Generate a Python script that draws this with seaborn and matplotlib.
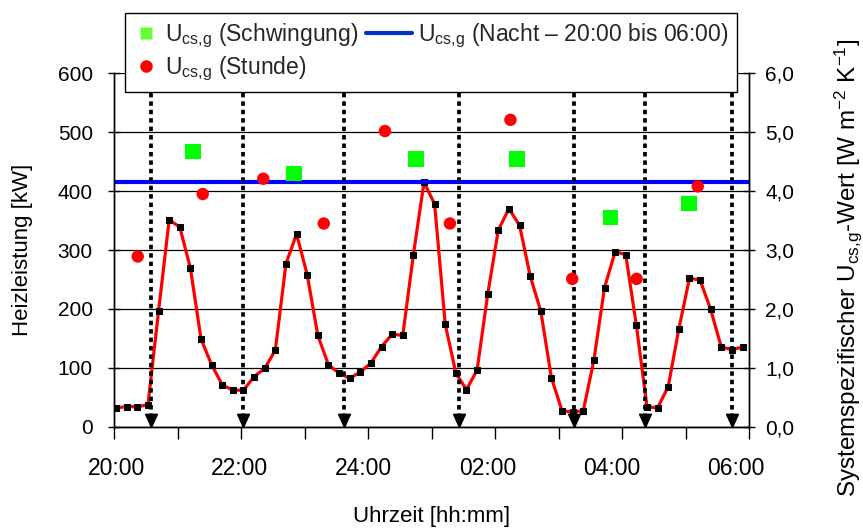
import numpy as np
import pandas as pd
import matplotlib
matplotlib.use("Agg")
import matplotlib.pyplot as plt
from matplotlib.lines import Line2D
from matplotlib.legend_handler import HandlerLine2D
import seaborn as sns

# ---------------- data ----------------
# heating power, 10-minute values from 20:00
zeit_min = np.arange(0, 600, 10)
heizleistung_kw = [32, 34, 34, 37, 196, 351, 339, 269, 149, 105,
                   71, 62, 62, 85, 99, 130, 277, 327, 258, 155,
                   105, 91, 82, 93, 108, 136, 157, 155, 292, 415,
                   378, 174, 91, 63, 96, 225, 334, 370, 342, 256,
                   196, 83, 27, 25, 27, 113, 236, 297, 292, 172,
                   34, 32, 68, 166, 252, 249, 199, 135, 131, 135]

# hourly U values (right axis)
stunde_h = [0.34, 1.36, 2.31, 3.26, 4.22, 5.24, 6.19, 7.16, 8.17, 9.13]
stunde_u = [2.89, 3.95, 4.21, 3.45, 5.02, 3.45, 5.21, 2.51, 2.51, 4.08]

# oscillation-based U values (right axis)
schwingung_h = [1.21, 2.79, 4.71, 6.29, 7.76, 8.99]
schwingung_u = [4.67, 4.30, 4.55, 4.55, 3.55, 3.79]

# night mean value
nacht_u = 4.16

# oscillation boundaries (hours after 20:00)
grenzen_h = [0.545, 2.00, 3.58, 5.38, 7.18, 8.31, 9.66]

x_ticklabels = ["20:00", "22:00", "24:00", "02:00", "04:00", "06:00"]
y_left_ticks = [0, 100, 200, 300, 400, 500, 600]
y_right_ticks = [0, 1, 2, 3, 4, 5, 6]
y_right_labels = ["0,0", "1,0", "2,0", "3,0", "4,0", "5,0", "6,0"]

lbl_schw = r"U$_{\mathrm{cs{,}g}}$ (Schwingung)"
lbl_stunde = r"U$_{\mathrm{cs{,}g}}$ (Stunde)"
lbl_nacht = r"U$_{\mathrm{cs{,}g}}$ (Nacht – 20:00 bis 06:00)"

# ---------------- style ----------------
sns.set_theme(style="white")
plt.rcParams["font.family"] = ["Liberation Sans", "DejaVu Sans"]
plt.rcParams["mathtext.fontset"] = "custom"
plt.rcParams["mathtext.rm"] = "Liberation Sans"
plt.rcParams["mathtext.it"] = "Liberation Sans:italic"
plt.rcParams["mathtext.bf"] = "Liberation Sans:bold"
plt.rcParams["axes.unicode_minus"] = False

fig = plt.figure(figsize=(8.63, 5.30), dpi=100)
ax = fig.add_axes([0.1325, 0.1949, 0.7358, 0.6668])
ax2 = ax.twinx()

df = pd.DataFrame({"h": zeit_min / 60.0, "kw": heizleistung_kw})

# red line with black square markers
sns.lineplot(data=df, x="h", y="kw", ax=ax, color="#ff0000", lw=2.3,
             marker="s", markersize=4.6, markerfacecolor="black",
             markeredgecolor="black", sort=False, estimator=None, zorder=3)

xlim = (-0.027, 9.94)
ax.set_xlim(*xlim)
ax.set_ylim(0, 600)
ax2.set_ylim(0, 6)

# grid
ax.set_yticks(y_left_ticks)
ax.yaxis.grid(True, color="black", lw=0.9)
ax.xaxis.grid(False)
ax.set_axisbelow(True)

# x tick marks every hour; time labels placed as texts below them
ax.set_xticks(np.linspace(xlim[0], xlim[1], 11))
ax.tick_params(axis="x", which="major", direction="out", length=8.5,
               width=1, color="black", bottom=True, labelbottom=False)
ax2.tick_params(axis="x", which="both", labelbottom=False, bottom=False)
xlab_pos = np.linspace(0, 9.72, len(x_ticklabels))
for xp, txt in zip(xlab_pos, x_ticklabels):
    ax.text(xp, -0.117, txt, transform=ax.get_xaxis_transform(), ha="center",
            va="center", fontsize=16.5, color="black")

ax.tick_params(axis="y", direction="inout", length=8, width=1, pad=11.5,
               labelsize=15, colors="black", left=True)

ax2.set_yticks(y_right_ticks)
ax2.set_yticklabels(y_right_labels)
ax2.tick_params(axis="y", direction="inout", length=8, width=1, pad=7.5,
                labelsize=15, colors="black", right=True)
ax2.grid(False)

for a in (ax, ax2):
    for s in a.spines.values():
        s.set_color("black")
        s.set_linewidth(1)
    a.spines["top"].set_visible(False)

# night line
ax2.axhline(nacht_u, color="#0000ff", lw=3, zorder=2)

# dotted boundaries with arrow heads
ax2.vlines(grenzen_h, 0.14, 5.67, colors="black", lw=2.7,
           linestyles=[(0, (1.2, 1.05))], zorder=3)
arrow = [(0, 0), (-0.45, 1), (0.45, 1), (0, 0)]
ax2.plot(grenzen_h, [0] * len(grenzen_h), linestyle="none", marker=arrow,
         markersize=19, color="black", zorder=3, clip_on=False)

# hourly circles and oscillation squares
sns.scatterplot(x=stunde_h, y=stunde_u, ax=ax2, marker="o", s=80,
                color="#ff0000", edgecolor="none", zorder=5, legend=False)
sns.scatterplot(x=schwingung_h, y=schwingung_u, ax=ax2, marker="s", s=128,
                color="#00ff00", edgecolor="none", zorder=5, legend=False)

# labels
ax.set_xlabel("Uhrzeit [hh:mm]", fontsize=16, color="black")
ax.xaxis.set_label_coords(0.5, -0.225)
ax.set_ylabel("Heizleistung [kW]", fontsize=16, color="black")
ax.yaxis.set_label_coords(-0.128, 0.5)
ax2.set_ylabel(r"Systemspezifischer U$_{\mathrm{cs{,}g}}$-Wert [W m$^{\mathrm{-2}}$ K$^{\mathrm{-1}}$]",
               fontsize=17.5, color="black", rotation=90)
ax2.yaxis.set_label_coords(1.131, 0.45)


# legend handlers: marker placed left in its box, night line reaching left
class HandlerMarkerLeft(HandlerLine2D):
    def get_xdata(self, legend, xdescent, ydescent, width, height, fontsize):
        xd, xm = super().get_xdata(legend, xdescent, ydescent, width, height, fontsize)
        return xd, [-xdescent + 0.25 * width]


class HandlerLongLine(HandlerLine2D):
    def get_xdata(self, legend, xdescent, ydescent, width, height, fontsize):
        xd, xm = super().get_xdata(legend, xdescent, ydescent, width, height, fontsize)
        return [-xdescent - 0.83 * width, -xdescent + width], xm


h_sq = Line2D([], [], linestyle="none", marker="s", markersize=9,
              markerfacecolor="#66ff33", markeredgecolor="none")
h_ci = Line2D([], [], linestyle="none", marker="o", markersize=9,
              markerfacecolor="#ff0000", markeredgecolor="none")
h_li = Line2D([], [], color="#0033cc", lw=3)
leg = ax2.legend(handles=[h_sq, h_ci, h_li], labels=[lbl_schw, lbl_stunde, lbl_nacht],
                 handler_map={h_sq: HandlerMarkerLeft(), h_ci: HandlerMarkerLeft(),
                              h_li: HandlerLongLine()},
                 ncol=2, loc="upper left", bbox_to_anchor=(125 / 863, 517 / 530),
                 bbox_transform=fig.transFigure, borderaxespad=0, frameon=True,
                 fancybox=False, edgecolor="black", framealpha=1, fontsize=16.5,
                 handlelength=1.1, handletextpad=0.25, columnspacing=1.25,
                 labelspacing=0.2, borderpad=0.38)
leg.get_frame().set_linewidth(1)
leg.set_zorder(10)

fig.savefig("out.png", dpi=100)
